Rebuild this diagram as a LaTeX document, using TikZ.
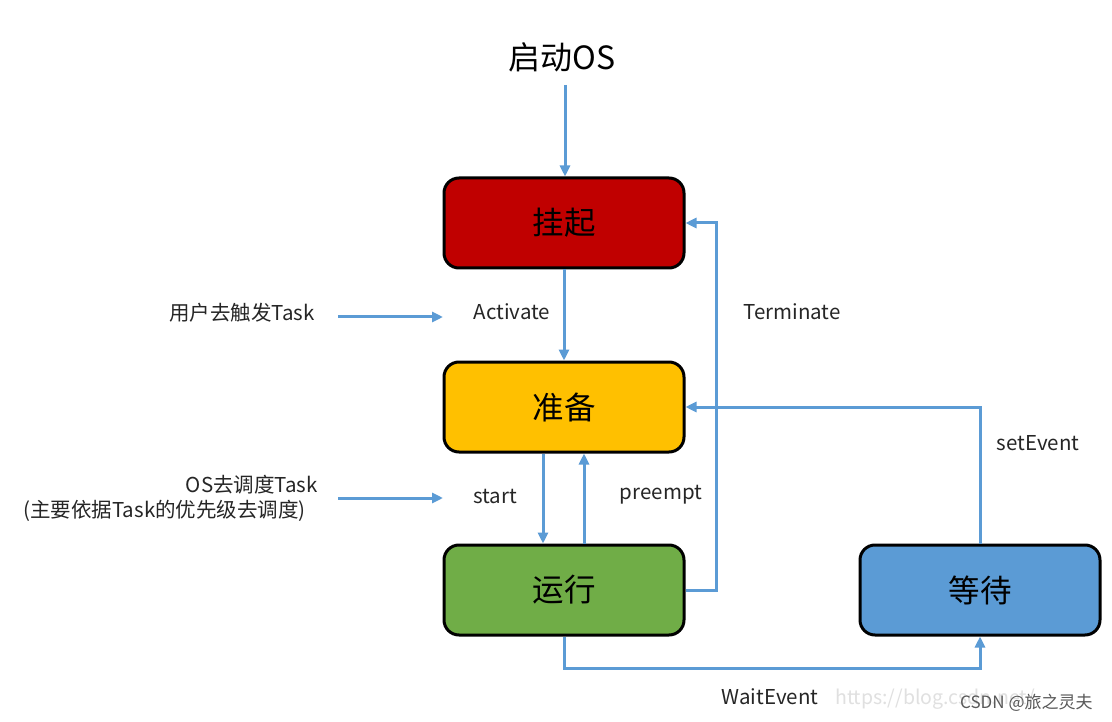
\documentclass[tikz,border=0pt]{standalone}
\usepackage{fontspec}
\setmainfont{Noto Sans CJK SC}
\usetikzlibrary{arrows.meta}
\definecolor{flow}{HTML}{5B9BD5}
\definecolor{stRed}{HTML}{C00000}
\definecolor{stYellow}{HTML}{FFC000}
\definecolor{stGreen}{HTML}{70AD47}
\definecolor{stBlue}{HTML}{5B9BD5}
\begin{document}
\begin{tikzpicture}[x=1pt,y=-1pt,
  state/.style={draw=black, line width=3pt, rounded corners=15pt,
    minimum width=240pt, minimum height=90pt, inner sep=0pt,
    font=\fontsize{31.5}{36}\selectfont},
  lbl/.style={inner sep=0pt, text=black!85, font=\fontsize{20.5}{24}\selectfont},
  conn/.style={draw=flow, line width=3pt,
    -{Triangle[length=11pt,width=10pt]}},
  wmark/.style={inner sep=0pt}
]
\useasboundingbox (0,0) rectangle (1112,722);
\fill[white] (0,0) rectangle (1112,722);

% states
\node[state, fill=stRed]    (hang)  at (564,223) {挂起};
\node[state, fill=stYellow] (ready) at (564,407) {准备};
\node[state, fill=stGreen]  (run)   at (564,590) {运行};
\node[state, fill=stBlue]   (wait)  at (980,590) {等待};

% start of the operating system
\node[inner sep=0pt, font=\fontsize{32}{38}\selectfont] (boot) at (562,57) {启动OS};
\coordinate (bootEnd) at (565,85);
\draw[conn] (bootEnd) -- (bootEnd |- hang.north);

% hang -> ready
\draw[conn] (hang.south) -- (ready.north);
\node[lbl] (act) at (512,312) {Activate};

% user trigger
\node[lbl] (user) at (242,313) {用户去触发Task};
\coordinate (userA) at (338,317);
\coordinate (userB) at (443,317);
\draw[conn] (userA) -- (userB);

% ready <-> running
\coordinate (startX) at (543,0);
\coordinate (preX) at (584,0);
\draw[conn] (startX |- ready.south) -- (startX |- run.north);
\draw[conn] (preX |- run.north) -- (preX |- ready.south);
\node[lbl] (startL) at (495,496) {start};
\node[lbl] (preL) at (661,495) {preempt};

% scheduling note
\node[lbl, anchor=east] (sched1) at (318,485) {OS去调度Task};
\node[lbl, anchor=east] (sched2) at (306,511) {(主要依据Task的优先级去调度)};
\coordinate (schedA) at (338,498);
\coordinate (schedB) at (443,498);
\draw[conn] (schedA) -- (schedB);

% terminate: running -> hang
\coordinate (termX) at (716,0);
\draw[conn] (run.east) -- (termX |- run.east) -- (termX |- hang.east) -- (hang.east);
\node[lbl] (termL) at (792,312) {Terminate};

% setEvent: waiting -> ready
\draw[conn] (wait.north) -- (wait.north |- ready.east) -- (ready.east);
\node[lbl] (setL) at (1038,443) {setEvent};

% WaitEvent: running -> waiting
\coordinate (waitY) at (0,668);
\draw[conn] (run.south) -- (run.south |- waitY) -- (wait.south |- waitY) -- (wait.south);
\node[lbl] (waitL) at (770,697) {WaitEvent};

% watermark
\node[wmark, anchor=west, text=black!12, font=\fontsize{19.5}{24}\selectfont] (url) at (835,699) {https://blog.csdn.net/};
\node[wmark, anchor=west, text=black!65, font=\fontsize{17}{20}\selectfont] (csdn) at (960,703) {CSDN @旅之灵夫};
\end{tikzpicture}
\end{document}
